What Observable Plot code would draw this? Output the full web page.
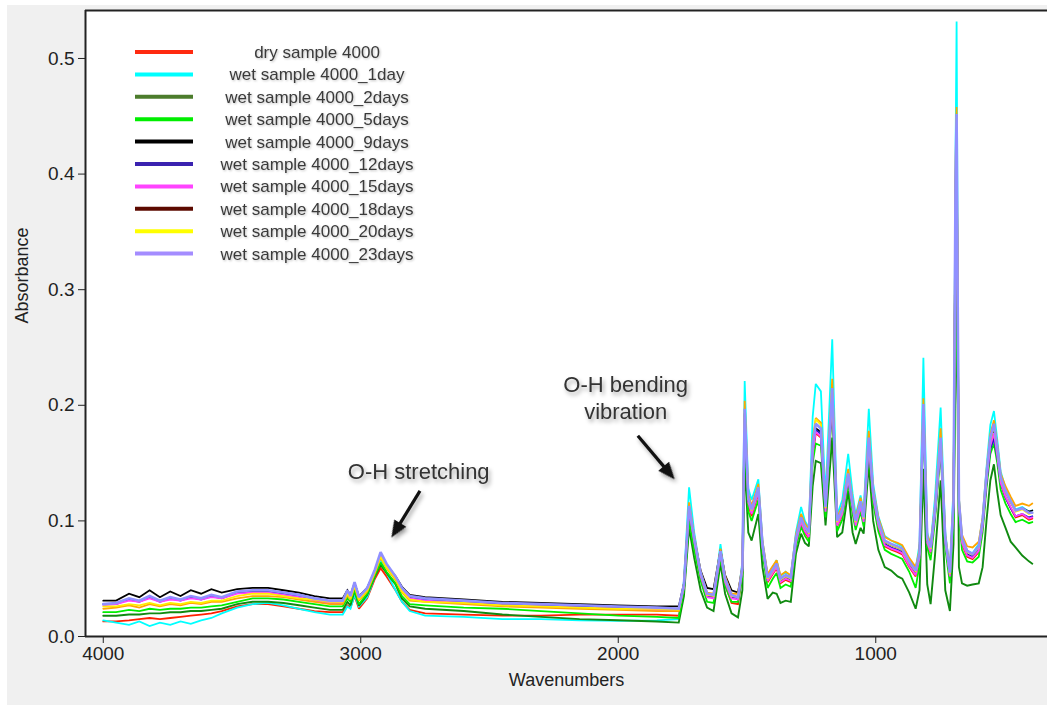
<!DOCTYPE html>
<html><head><meta charset="utf-8">
<script src="https://cdn.jsdelivr.net/npm/d3@7"></script>
<script src="https://cdn.jsdelivr.net/npm/@observablehq/plot@0.6"></script>
<style>
html,body{margin:0;padding:0;background:#fff;}
#wrap{position:absolute;left:7px;top:5px;width:1040px;height:700px;background:#f0f0f0;overflow:hidden;}
#chart{position:absolute;left:-7px;top:-5px;}
</style></head><body><div id="wrap"><div id="chart"></div></div>
<script>
// ---------- data ----------
const wavenumbers = [4000,3950,3900,3860,3820,3780,3740,3700,3660,3620,3580,3540,
3480,3420,3360,3300,3240,3180,3120,3070,
3052,3040,3024,3007,2975,2945,2923,2900,2865,2840,2810,
2750,2600,2450,2300,2150,2000,1850,1765,
1745,1725,1705,1680,1655,1630,1603,1585,1560,1535,
1518,1509,1495,1482,1456,1440,1420,1400,1385,1370,
1350,1330,1310,1290,1275,1260,1245,1233,1213,1195,
1169,1150,1130,1107,1090,1078,1059,1047,1027,1010,
990,965,940,915,897,870,845,830,815,800,
787,770,748,730,712,698,690,686,682,677,
665,645,624,600,585,570,555,541,528,515,
496,476,457,431,405,392];

const seriesNames = ["dry sample 4000","wet sample 4000_1day","wet sample 4000_2days","wet sample 4000_5days","wet sample 4000_9days","wet sample 4000_12days","wet sample 4000_15days","wet sample 4000_18days","wet sample 4000_20days","wet sample 4000_23days"];
const legendColors = ["#ff2a10","#00ffff","#4c7c2c","#00ee00","#000000","#3a22b0","#ff44ff","#5c0a00","#ffff00","#a48cff"];
const lineColors   = ["#ff2000","#00ffff","#108a10","#00ee00","#000000","#2020c0","#ff40ff","#ffa500","#ffee00","#9090ff"];

const dry = [.013,.013,.014,.015,.016,.015,.016,.017,.018,.019,.020,.022,
.026,.028,.028,.026,.024,.022,.021,.021,
.027,.025,.035,.024,.033,.050,.059,.052,.040,.030,.023,
.020,.019,.018,.018,.019,.019,.019,.018,
.040,.108,.080,.050,.036,.034,.070,.045,.029,.028,
.055,.188,.114,.104,.124,.076,.047,.054,.059,.046,
.049,.047,.080,.098,.090,.085,.156,.176,.172,.107,
.205,.095,.105,.135,.110,.095,.111,.098,.164,.119,
.095,.078,.075,.073,.071,.060,.052,.067,.192,.080,
.072,.104,.164,.080,.051,.111,.37,.43,.28,.111,
.080,.069,.067,.073,.094,.133,.164,.175,.155,.132,
.120,.111,.103,.105,.101,.102];
const wet1 = [.014,.012,.010,.013,.009,.012,.010,.013,.011,.014,.016,.020,
.025,.028,.029,.027,.024,.021,.019,.019,
.026,.024,.036,.026,.034,.052,.066,.055,.040,.030,.022,
.018,.017,.015,.015,.014,.0136,.014,.015,
.048,.129,.090,.055,.035,.034,.080,.050,.034,.033,
.065,.221,.128,.118,.136,.083,.052,.060,.066,.052,
.056,.052,.090,.112,.100,.094,.190,.2185,.212,.120,
.257,.105,.118,.158,.124,.105,.122,.108,.197,.132,
.104,.087,.083,.080,.078,.067,.058,.080,.241,.090,
.079,.120,.198,.090,.057,.13,.42,.532,.342,.12,
.086,.074,.072,.080,.103,.146,.183,.195,.170,.143,
.128,.118,.110,.112,.108,.109];
const wet2 = [.018,.018,.019,.019,.020,.020,.021,.021,.022,.022,.023,.024,
.028,.030,.030,.029,.027,.025,.023,.023,
.030,.027,.0395,.0266,.036,.052,.062,.055,.045,.033,.026,
.024,.022,.019,.017,.015,.014,.013,.012,
.035,.094,.068,.040,.025,.022,.063,.037,.020,.0165,
.040,.150,.090,.083,.106,.060,.0326,.038,.037,.029,
.031,.030,.0715,.089,.081,.078,.130,.152,.150,.096,
.172,.086,.090,.126,.090,.080,.094,.089,.149,.100,
.075,.060,.057,.052,.050,.038,.024,.040,.145,.045,
.028,.070,.135,.040,.022,.08,.24,.276,.20,.06,
.046,.044,.045,.046,.060,.100,.135,.149,.125,.105,
.094,.082,.077,.070,.065,.063];
const wet5 = [.021,.021,.023,.022,.024,.023,.024,.024,.025,.025,.026,.027,
.030,.033,.033,.032,.030,.028,.026,.026,
.033,.030,.040,.028,.037,.053,.064,.056,.046,.035,.028,
.027,.025,.024,.022,.020,.018,.017,.016,
.040,.100,.075,.048,.030,.029,.068,.044,.030,.030,
.052,.175,.108,.100,.118,.072,.042,.050,.055,.042,
.045,.043,.077,.095,.087,.082,.150,.167,.165,.103,
.200,.091,.101,.132,.106,.092,.108,.095,.160,.115,
.091,.075,.0715,.069,.067,.056,.042,.062,.185,.077,
.066,.100,.160,.076,.046,.10,.26,.30,.22,.105,
.075,.065,.064,.069,.090,.128,.158,.167,.150,.127,
.115,.106,.099,.101,.098,.099];
const wet9 = [.031,.031,.037,.034,.040,.034,.039,.035,.040,.037,.041,.038,
.041,.042,.042,.040,.038,.035,.033,.033,
.040,.036,.046,.035,.042,.057,.070,.062,.052,.043,.036,
.034,.032,.030,.029,.028,.027,.026,.026,
.046,.112,.085,.057,.042,.041,.075,.053,.040,.038,
.060,.193,.118,.108,.127,.080,.052,.058,.063,.050,
.053,.051,.084,.101,.094,.089,.160,.180,.177,.111,
.210,.099,.109,.139,.113,.099,.115,.101,.169,.123,
.099,.082,.079,.077,.075,.064,.056,.071,.197,.084,
.076,.108,.170,.084,.055,.115,.39,.44,.29,.115,
.084,.074,.071,.078,.099,.138,.170,.180,.160,.137,
.125,.116,.109,.111,.108,.109];
const wet12 = [.028,.028,.032,.030,.034,.030,.033,.031,.034,.032,.035,.033,
.038,.039,.039,.037,.035,.032,.030,.030,
.039,.034,.046,.033,.041,.057,.071,.062,.051,.041,.034,
.032,.030,.028,.027,.026,.025,.024,.023,
.043,.110,.083,.053,.035,.034,.072,.048,.034,.033,
.058,.192,.117,.107,.126,.078,.049,.056,.061,.048,
.051,.049,.082,.100,.092,.087,.160,.179,.175,.109,
.208,.097,.107,.137,.112,.097,.113,.100,.167,.121,
.097,.080,.077,.075,.073,.062,.054,.069,.195,.082,
.074,.106,.167,.082,.053,.113,.38,.44,.29,.113,
.082,.071,.069,.075,.096,.133,.162,.171,.155,.133,
.120,.111,.104,.106,.103,.104];
const wet15 = [.027,.028,.031,.030,.033,.030,.032,.031,.033,.032,.034,.033,
.037,.038,.038,.036,.034,.031,.029,.029,
.038,.033,.045,.032,.040,.056,.070,.061,.050,.040,.033,
.031,.029,.027,.026,.025,.024,.023,.023,
.042,.109,.082,.052,.034,.033,.071,.047,.033,.032,
.057,.190,.116,.106,.125,.077,.048,.055,.060,.047,
.050,.048,.081,.099,.091,.086,.158,.177,.173,.108,
.206,.096,.106,.136,.111,.096,.112,.099,.165,.120,
.096,.079,.076,.074,.072,.061,.053,.068,.193,.081,
.073,.105,.165,.081,.052,.112,.37,.43,.28,.112,
.081,.070,.068,.074,.095,.134,.165,.176,.156,.133,
.121,.112,.104,.106,.102,.103];
const wet18 = [.024,.025,.027,.025,.028,.026,.028,.027,.029,.028,.030,.030,
.033,.035,.035,.034,.032,.030,.028,.028,
.036,.032,.043,.031,.039,.055,.068,.059,.049,.038,.031,
.030,.028,.026,.025,.024,.023,.022,.022,
.046,.116,.087,.056,.038,.037,.076,.052,.037,.037,
.062,.204,.123,.113,.132,.083,.054,.061,.066,.053,
.056,.053,.088,.106,.098,.093,.170,.189,.185,.115,
.223,.103,.113,.145,.118,.103,.120,.106,.178,.128,
.103,.086,.083,.081,.079,.068,.060,.075,.206,.088,
.080,.113,.180,.088,.058,.12,.41,.458,.31,.12,
.088,.078,.077,.082,.103,.143,.175,.187,.166,.141,
.130,.121,.113,.115,.113,.115];
const wet20 = [.026,.026,.028,.027,.029,.027,.029,.028,.030,.029,.031,.031,
.035,.037,.037,.035,.033,.032,.030,.030,
.037,.033,.044,.032,.040,.056,.069,.060,.050,.039,.032,
.030,.029,.027,.026,.025,.024,.024,.023,
.044,.112,.084,.054,.036,.035,.073,.049,.035,.034,
.059,.195,.119,.109,.128,.079,.050,.057,.062,.049,
.052,.050,.084,.102,.094,.089,.163,.188,.183,.111,
.213,.099,.109,.140,.114,.099,.116,.102,.171,.124,
.099,.082,.079,.077,.075,.064,.056,.071,.199,.084,
.076,.109,.171,.084,.054,.116,.39,.45,.30,.116,
.084,.073,.071,.077,.099,.139,.170,.182,.161,.137,
.125,.116,.108,.110,.106,.107];
const wet23 = [.028,.029,.033,.031,.035,.031,.034,.032,.035,.033,.036,.034,
.039,.040,.040,.038,.036,.033,.031,.031,
.040,.035,.047,.034,.042,.058,.073,.063,.052,.042,.035,
.033,.031,.029,.028,.027,.026,.025,.024,
.045,.113,.085,.055,.037,.036,.074,.050,.036,.034,
.060,.197,.120,.110,.129,.080,.051,.058,.063,.050,
.053,.051,.085,.103,.095,.090,.165,.184,.180,.112,
.215,.100,.110,.141,.115,.100,.117,.103,.172,.125,
.100,.083,.080,.078,.076,.065,.057,.072,.201,.085,
.077,.110,.172,.085,.055,.117,.40,.452,.30,.117,
.085,.074,.0715,.078,.100,.140,.172,.184,.163,.138,
.126,.117,.109,.111,.107,.107];
const seriesValues = [dry, wet1, wet2, wet5, wet9, wet12, wet15, wet18, wet20, wet23];

const yTicks = [0, 0.1, 0.2, 0.3, 0.4, 0.5];
const xTicks = [4000, 3000, 2000, 1000];

// annotations (label, label position, arrow tail, arrow tip) in data units
const annotLabels = ["O-H stretching", "O-H bending\nvibration"];
const annotLabelWn = [2775, 1971];
const annotLabelAbs = [0.144, 0.207];
const annotTailWn = [2770, 1924];
const annotTailAbs = [0.126, 0.1736];
const annotTipWn = [2881, 1781];
const annotTipAbs = [0.0856, 0.136];

// ---------- layout ----------
const W = 1047, H = 707, mL = 85, mT = 10, mB = 71, mR = 0;
const xDomain = [4069, 333], yDomain = [0, 0.5415];
const FONT = '"Liberation Sans", Arial, Helvetica, sans-serif';
const xs = d3.scaleLinear(xDomain, [mL, W - mR]);
const ys = d3.scaleLinear(yDomain, [H - mB, mT]);

const seriesData = seriesValues.map(vals => {
  const n = Math.min(vals.length, wavenumbers.length);
  return d3.range(n).map(j => ({wn: wavenumbers[j], a: vals[j]}));
});

const arrowRows = annotTailWn.map((_, i) => {
  const x1 = xs(annotTailWn[i]), y1 = ys(annotTailAbs[i]);
  const x2 = xs(annotTipWn[i]), y2 = ys(annotTipAbs[i]);
  const len = Math.hypot(x2 - x1, y2 - y1), ux = (x2 - x1) / len, uy = (y2 - y1) / len;
  const back = 12;
  return {
    x1: annotTailWn[i], y1: annotTailAbs[i],
    x2: xs.invert(x2 - ux * back), y2: ys.invert(y2 - uy * back),
    tx: annotTipWn[i], ty: annotTipAbs[i],
    angle: Math.atan2(ux, -uy) * 180 / Math.PI
  };
});
const labelRows = annotLabels.map((t, i) => ({t, wn: annotLabelWn[i], a: annotLabelAbs[i]}));

const headMark = (typeof Plot.spike === "function")
  ? Plot.vector(arrowRows, {x: "tx", y: "ty", rotate: "angle", length: 17, r: 7, shape: "spike", anchor: "end", fill: "#111", stroke: "none", ariaDescription: "annotation"})
  : Plot.arrow(arrowRows, {x1: "x1", y1: "y1", x2: "tx", y2: "ty", stroke: "#111", strokeWidth: 3, headLength: 14, ariaDescription: "annotation"});

const lineWidths = [1.8,1.8,1.9,1.8,1.8,1.8,1.8,1.8,1.8,2.6];

const svg = Plot.plot({
  width: W, height: H,
  marginLeft: mL, marginTop: mT, marginBottom: mB, marginRight: mR,
  style: {background: "transparent", fontFamily: FONT, fontSize: "19px", color: "#222"},
  x: {domain: xDomain},
  y: {domain: yDomain},
  marks: [
    Plot.frame({fill: "white", stroke: "none"}),
    ...seriesData.map((d, i) => Plot.line(d, {x: "wn", y: "a", stroke: lineColors[i], strokeWidth: lineWidths[i], strokeLinejoin: "miter", strokeMiterlimit: 2})),
    Plot.ruleX([xDomain[0]], {stroke: "#222", strokeWidth: 2}),
    Plot.ruleY([yDomain[0]], {stroke: "#222", strokeWidth: 2}),
    Plot.ruleY([yDomain[1]], {stroke: "#222", strokeWidth: 2}),
    Plot.axisY(yTicks, {tickSize: 7, tickPadding: 4, tickFormat: d => d.toFixed(1), fontSize: 19, stroke: "#222", fill: "#222", label: null}),
    Plot.axisX(xTicks, {tickSize: 7, tickPadding: 3, tickFormat: d => String(d), fontSize: 19, stroke: "#222", fill: "#222", label: null}),
    Plot.text(["Wavenumbers"], {text: d => d, frameAnchor: "bottom", dy: 49, fontSize: 18, fill: "#222"}),
    Plot.text(["Absorbance"], {text: d => d, frameAnchor: "left", dx: -63, rotate: -90, fontSize: 18, fill: "#222"}),
    Plot.link(arrowRows, {x1: "x1", y1: "y1", x2: "x2", y2: "y2", stroke: "#111", strokeWidth: 3.2, ariaDescription: "annotation"}),
    headMark,
    Plot.text(labelRows, {x: "wn", y: "a", text: "t", fontSize: 22, fill: "#333", lineHeight: 1.23, ariaDescription: "annotation"})
  ]
});

// legend drawn inside the plot area
const lg = d3.select(svg).append("g").attr("class", "legend").attr("font-family", FONT);
seriesNames.forEach((name, i) => {
  const y = 52 + i * 22.4;
  lg.append("line").attr("x1", 135).attr("x2", 193).attr("y1", y).attr("y2", y)
    .attr("stroke", legendColors[i]).attr("stroke-width", 4);
  lg.append("text").attr("x", 317).attr("y", y).attr("dy", "0.35em")
    .attr("text-anchor", "middle").attr("font-size", 17).attr("fill", "#3a3a3a")
    .style("filter", "drop-shadow(1px 1px 1px rgba(0,0,0,0.25))").text(name);
});
d3.select(svg).selectAll('[aria-description="annotation"]')
  .style("filter", "drop-shadow(2px 3px 2px rgba(0,0,0,0.35))");

document.getElementById("chart").appendChild(svg);
</script></body></html>
